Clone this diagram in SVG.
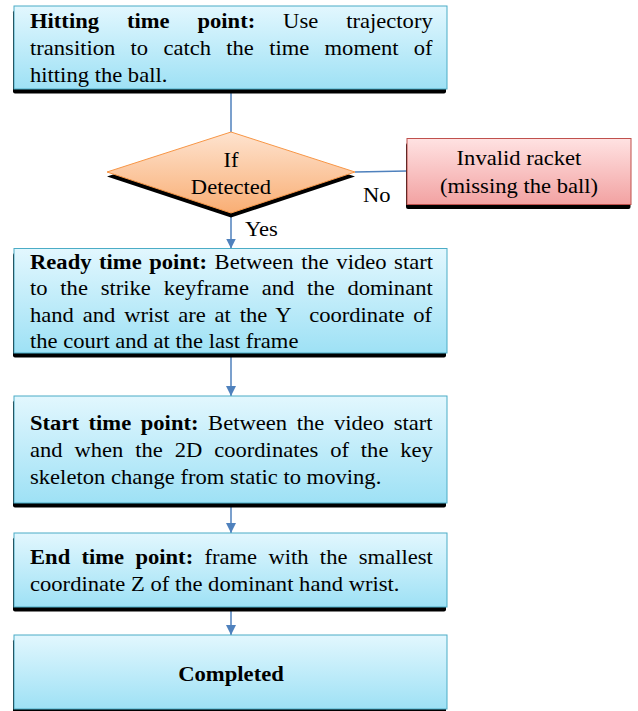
<svg xmlns="http://www.w3.org/2000/svg" width="638" height="711" viewBox="0 0 638 711">
<defs>
<linearGradient id="gBlue" x1="0" y1="0" x2="0" y2="1">
<stop offset="0" stop-color="#e2f7fe"/>
<stop offset="1" stop-color="#9ee1f5"/>
</linearGradient>
<linearGradient id="gPink" x1="0" y1="0" x2="0" y2="1">
<stop offset="0" stop-color="#ffe2e2"/>
<stop offset="1" stop-color="#f2a2a2"/>
</linearGradient>
<linearGradient id="gOrange" x1="0" y1="0" x2="0" y2="1">
<stop offset="0" stop-color="#fee3cf"/>
<stop offset="1" stop-color="#f9ae74"/>
</linearGradient>
<marker id="arrow" viewBox="0 0 10 10" refX="10" refY="5" markerWidth="10" markerHeight="10" markerUnits="userSpaceOnUse" orient="auto">
<path d="M0,0 L10,5 L0,10 z" fill="#4f81bd"/>
</marker>
</defs>
<style>
.box{fill:url(#gBlue);stroke:#4bacc6;stroke-width:1}
.pink{fill:url(#gPink);stroke:#c0504d;stroke-width:1}
.dia{fill:url(#gOrange);stroke:#f79646;stroke-width:1}
.shadow{fill:#000}
.conn{stroke:#4f81bd;stroke-width:1.5;fill:none}
text{font-family:"Liberation Serif","Times New Roman",serif;font-size:20px;fill:#000}
.b{font-weight:bold}
.c{text-anchor:middle}
</style>
<g id="connectors">
<line class="conn" x1="231" y1="89" x2="231" y2="132"/>
<line class="conn" x1="355" y1="172" x2="407" y2="171"/>
<line class="conn" x1="231" y1="213" x2="231" y2="248.5" marker-end="url(#arrow)"/>
<line class="conn" x1="231" y1="353" x2="231" y2="396" marker-end="url(#arrow)"/>
<line class="conn" x1="231" y1="503" x2="231" y2="533" marker-end="url(#arrow)"/>
<line class="conn" x1="231" y1="607" x2="231" y2="635" marker-end="url(#arrow)"/>
</g>
<g id="hitting">
<rect class="shadow" x="13" y="10.5" width="433" height="83" rx="2"/>
<rect class="box" x="14" y="6" width="433" height="83"/>
<text transform="translate(30,27.5) scale(1.13,1)" word-spacing="19.7"><tspan class="b">Hitting time point:</tspan> Use trajectory</text>
<text transform="translate(30,54.5) scale(1.13,1)" word-spacing="8.5">transition to catch the time moment of</text>
<text transform="translate(30,81.5) scale(1.13,1)">hitting the ball.</text>
</g>
<g id="decision">
<polygon class="shadow" points="107,176.5 231,217.5 355,176.5 231,136"/>
<polygon class="dia" points="231,132 355,172 231,213 107,172"/>
<text class="c" transform="translate(231,167) scale(1.13,1)">If</text>
<text class="c" transform="translate(231,193.5) scale(1.13,1)">Detected</text>
</g>
<g id="invalid">
<rect class="shadow" x="406" y="143" width="224.5" height="66" rx="2"/>
<rect class="pink" x="407" y="138.5" width="224" height="66"/>
<text class="c" transform="translate(519,165) scale(1.13,1)">Invalid racket</text>
<text class="c" transform="translate(519,193) scale(1.13,1)">(missing the ball)</text>
</g>
<g id="labels">
<text transform="translate(363,202) scale(1.13,1)">No</text>
<text transform="translate(245,235.5) scale(1.13,1)">Yes</text>
</g>
<g id="ready">
<rect class="shadow" x="13" y="253" width="433" height="104.5" rx="2"/>
<rect class="box" x="14" y="248.5" width="433" height="104.5"/>
<text transform="translate(30,268.5) scale(1.13,1)" word-spacing="1.7"><tspan class="b">Ready time point:</tspan> Between the video start</text>
<text transform="translate(30,295) scale(1.13,1)" word-spacing="6.3">to the strike keyframe and the dominant</text>
<text transform="translate(30,321.7) scale(1.13,1)" word-spacing="2.8">hand and wrist are at the Y&#160; coordinate of</text>
<text transform="translate(30,348.3) scale(1.13,1)">the court and at the last frame</text>
</g>
<g id="start">
<rect class="shadow" x="13" y="400.5" width="433" height="107" rx="2"/>
<rect class="box" x="14" y="396" width="433" height="107"/>
<text transform="translate(30,430) scale(1.13,1)" word-spacing="3.5"><tspan class="b">Start time point:</tspan> Between the video start</text>
<text transform="translate(30,456.7) scale(1.13,1)" word-spacing="5.5">and when the 2D coordinates of the key</text>
<text transform="translate(30,484) scale(1.13,1)">skeleton change from static to moving.</text>
</g>
<g id="end">
<rect class="shadow" x="13" y="537.5" width="433" height="74" rx="2"/>
<rect class="box" x="14" y="533" width="433" height="74"/>
<text transform="translate(30,563.5) scale(1.13,1)" word-spacing="5.0"><tspan class="b">End time point:</tspan> frame with the smallest</text>
<text transform="translate(30,591) scale(1.13,1)">coordinate Z of the dominant hand wrist.</text>
</g>
<g id="completed">
<rect class="shadow" x="13" y="639.5" width="433" height="74" rx="2"/>
<rect class="box" x="14" y="635" width="433" height="74"/>
<text class="b c" style="font-size:22px" transform="translate(231,681) scale(1.03,1)">Completed</text>
</g>
</svg>
